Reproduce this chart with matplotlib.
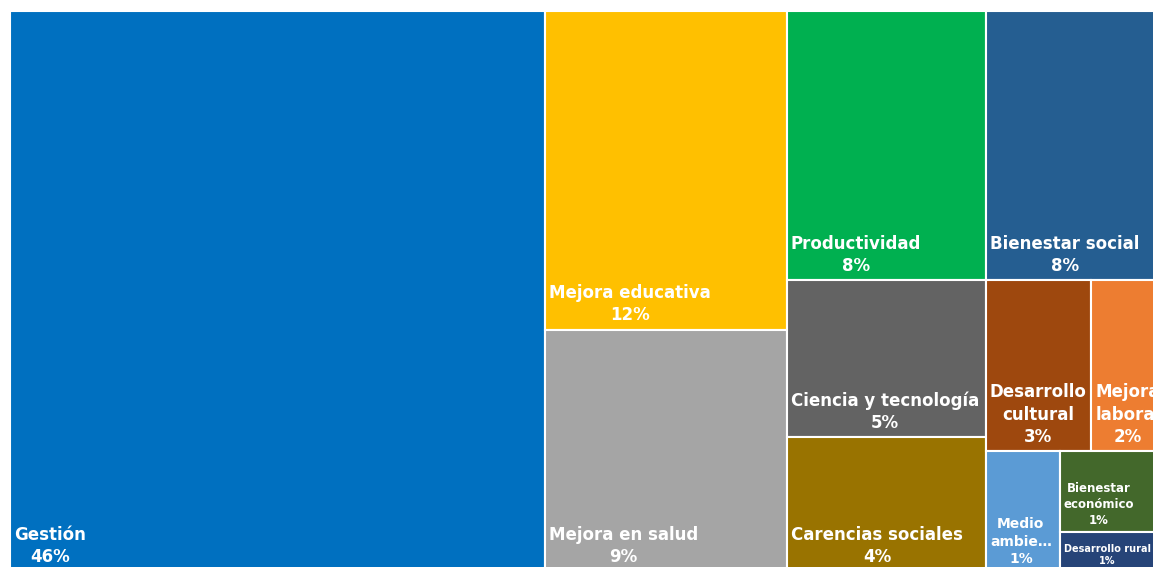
import matplotlib
matplotlib.use("Agg")
import matplotlib.pyplot as plt
from matplotlib.patches import Rectangle

# ---------------------------------------------------------------------------
# share of projects by category (percent), in display order
categories = ["Gestión", "Mejora educativa", "Mejora en salud", "Productividad",
              "Bienestar social", "Ciencia y tecnología", "Carencias sociales",
              "Desarrollo cultural", "Mejora laboral", "Medio ambiente",
              "Bienestar económico", "Desarrollo rural"]
shares = [46.00, 11.83, 8.97, 8.22, 7.72, 4.80, 4.09, 2.77, 2.14, 1.36, 1.41, 0.68]
# text as it is printed inside each tile (line breaks / truncation)
tile_text = ["Gestión", "Mejora educativa", "Mejora en salud", "Productividad",
             "Bienestar social", "Ciencia y tecnología", "Carencias sociales",
             "Desarrollo\ncultural", "Mejora\nlaboral", "Medio\nambie…",
             "Bienestar\neconómico", "Desarrollo rural"]
colors = ["#0070C0", "#FFC000", "#A5A5A5", "#00B050", "#255E91", "#636363",
          "#997300", "#9E480E", "#ED7D31", "#5B9BD5", "#43682B", "#264478"]
font_sizes = [12, 12, 12, 12, 12, 12, 12, 12, 12, 10, 8.5, 7]
# ---------------------------------------------------------------------------

FIG_W, FIG_H = 1153, 567
MAP_W, MAP_H = 1163, 560       # full treemap, a bit larger than the picture
LEFT, TOP = 10, 11


def mean_aspect(row, side):
    thick = sum(row) / side
    asp = [max(thick / (v / thick), (v / thick) / thick) for v in row]
    return sum(asp) / len(asp)


def squarify(values, x, y, w, h):
    total = sum(values)
    areas = [v * w * h / total for v in values]
    rects = []
    i = 0
    while i < len(areas):
        side = min(w, h)
        row = [areas[i]]
        best = mean_aspect(row, side)
        j = i + 1
        while j < len(areas):
            cand = row + [areas[j]]
            a = mean_aspect(cand, side)
            if a > best:
                break
            row, best = cand, a
            j += 1
        thick = sum(row) / side
        if w >= h:
            yy = y
            for a in row:
                rects.append((x, yy, thick, a / thick))
                yy += a / thick
            x += thick
            w -= thick
        else:
            xx = x
            for a in row:
                rects.append((xx, y, a / thick, thick))
                xx += a / thick
            y += thick
            h -= thick
        i = j
    return rects


fig = plt.figure(figsize=(FIG_W / 100, FIG_H / 100), dpi=100)
fig.patch.set_facecolor("white")
ax = fig.add_axes([LEFT / FIG_W, 1 - (TOP + MAP_H) / FIG_H,
                   MAP_W / FIG_W, MAP_H / FIG_H])
ax.set_xlim(0, MAP_W)
ax.set_ylim(MAP_H, 0)
ax.axis("off")

rects = squarify(shares, 0, 0, MAP_W, MAP_H)
for (x, y, w, h), txt, val, col, fs in zip(rects, tile_text, shares, colors, font_sizes):
    ax.add_patch(Rectangle((x, y), w, h, facecolor=col, edgecolor="white",
                           lw=1.5, clip_on=False))
    ax.text(x + 4, y + h - 5, f"{txt}\n{round(val):.0f}%", ha="left", va="bottom",
            multialignment="center", color="white", fontsize=fs,
            fontweight="bold", family="DejaVu Sans", linespacing=1.3,
            clip_on=False)

fig.savefig("out.png", dpi=100)
